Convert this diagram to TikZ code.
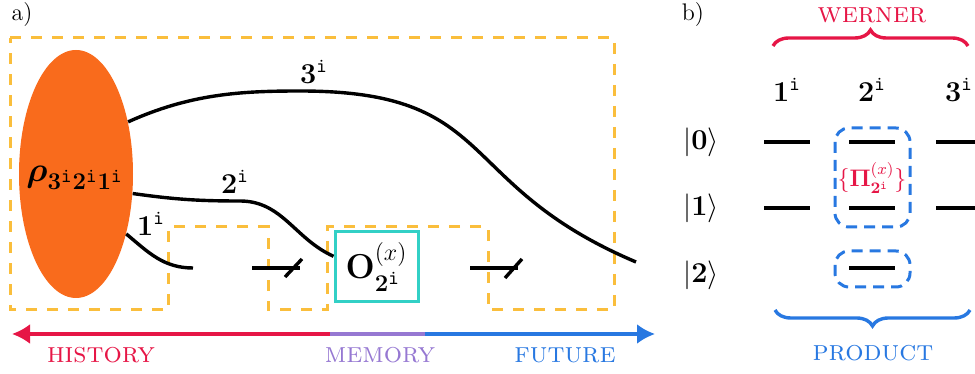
\documentclass[tikz,border=0pt]{standalone}
\usepackage{amsmath,amssymb,amsfonts}
\usepackage{xcolor}
\usepackage{tikz}
\usetikzlibrary{positioning,arrows.meta,shapes.geometric,calc,decorations.pathreplacing}

\definecolor{combyellow}{RGB}{250,190,60}
\definecolor{rhoorange}{RGB}{249,107,28}
\definecolor{instrteal}{RGB}{50,208,198}
\definecolor{histred}{RGB}{230,22,70}
\definecolor{mempurple}{RGB}{150,120,210}
\definecolor{futblue}{RGB}{40,120,225}
\newcommand{\sysi}{\mathtt{i}}

\begin{document}
\begin{tikzpicture}[x=0.5pt, y=0.5pt,
  comb/.style={combyellow, line width=1.5pt, dash pattern=on 5.5pt off 5pt},
  wire/.style={line width=1.7pt},
  lvl/.style={line width=1.7pt},
  proj/.style={futblue, line width=1.5pt, dash pattern=on 5.5pt off 3.5pt, rounded corners=7pt},
  timeline/.style={line width=1.6pt},
  tag/.style={font=\Large\scshape}]
  \useasboundingbox (0,0) rectangle (975,374);
  % ---------------- a) process tensor comb ----------------
  \node[font=\large] (la) at (22,359) {a)};
  \draw[comb] (10,336) -- (614,336) -- (614,64) -- (488,64) -- (488,147)
    -- (327,147) -- (327,64) -- (268,64) -- (268,147) -- (168,147)
    -- (168,64) -- (10,64) -- cycle;
  % initial state
  \node[ellipse, fill=rhoorange, minimum width=57pt, minimum height=124pt, inner sep=0pt] (rho) at (76,200) {};
  \node[font=\LARGE] (rholab) at (75,196) {$\boldsymbol{\rho}_{\mathbf{3}^{\sysi}\mathbf{2}^{\sysi}\mathbf{1}^{\sysi}}$};
  % instrument
  \node[draw=instrteal, line width=1.5pt, minimum width=41.5pt, minimum height=35pt, inner sep=0pt, font=\LARGE] (obox) at (376.5,107) {$\mathbf{O}^{(x)}_{\mathbf{2}^{\sysi}}$};
  % free wire ends
  \coordinate (cut1) at (193,106);
  \coordinate (in1) at (252,106);
  \coordinate (tick1) at (300,106);
  \coordinate (in2) at (470,106);
  \coordinate (tick2) at (518,106);
  \coordinate (out3) at (636,112);
  % wires
  \draw[wire] (rho.45) .. controls (190,280) and (240,283) .. (300,283)
    .. controls (500,283) and (452,190) .. (out3);
  \draw[wire] (rho.-19) to[out=-8,in=180] (240,173) to[out=0,in=156] (obox.166);
  \draw[wire] (rho.-50) to[out=-40,in=180] (cut1);
  \draw[wire] (in1) -- (tick1);
  \draw[wire] ($(tick1)+(-15,-9)$) -- ($(tick1)+(2,9)$);
  \draw[wire] (in2) -- (tick2);
  \draw[wire] ($(tick2)+(-13,-10)$) -- ($(tick2)+(4,9)$);
  \node[font=\Large] (lab3) at (314,302) {$\mathbf{3}^{\sysi}$};
  \node[font=\Large] (lab2) at (235,192) {$\mathbf{2}^{\sysi}$};
  \node[font=\Large] (lab1) at (151,150) {$\mathbf{1}^{\sysi}$};
  % time line
  \coordinate (tl) at (12,40);
  \coordinate (tm) at (330,40);
  \coordinate (tf) at (425,40);
  \coordinate (tr) at (655,40);
  \draw[timeline, histred, -{Latex[length=9pt,width=10pt]}] (tm) -- (tl);
  \draw[timeline, mempurple] (tm) -- (tf);
  \draw[timeline, futblue, -{Latex[length=9pt,width=10pt]}] (tf) -- (tr);
  \node[tag, text=histred] (hist) at (101,19) {history};
  \node[tag, text=mempurple] (mem) at (380,19) {memory};
  \node[tag, text=futblue] (fut) at (565,19) {future};
  % ---------------- b) levels ----------------
  \node[font=\large] (lb) at (693,359) {b)};
  \draw[histred, line width=1.7pt, decorate, decoration={brace, amplitude=8pt}] (773,328) -- (968,328);
  \node[tag, text=histred] (wer) at (872,359) {werner};
  \node[font=\Large] (c1) at (787,284) {$\mathbf{1}^{\sysi}$};
  \node[font=\Large] (c2) at (872,284) {$\mathbf{2}^{\sysi}$};
  \node[font=\Large] (c3) at (959,284) {$\mathbf{3}^{\sysi}$};
  \node[font=\Large] (k0) at (701,232) {$|\mathbf{0}\rangle$};
  \node[font=\Large] (k1) at (701,166) {$|\mathbf{1}\rangle$};
  \node[font=\Large] (k2) at (701,99) {$|\mathbf{2}\rangle$};
  \foreach \x in {787,872,959} {
    \foreach \y in {232,166} {
      \draw[lvl] (\x-23,\y) -- (\x+23,\y);
    }
  }
  \draw[lvl] (849,106) -- (895,106);
  \draw[proj] (835,246) rectangle (910,147);
  \draw[proj] (835,123) rectangle (910,87);
  \node[font=\large, text=histred] (povm) at (872,196) {$\{\boldsymbol{\Pi}^{(x)}_{\mathbf{2}^{\sysi}}\}$};
  \draw[futblue, line width=1.7pt, decorate, decoration={brace, mirror, amplitude=8pt}] (775,64) -- (970,64);
  \node[tag, text=futblue] (prod) at (873,21) {product};
\end{tikzpicture}
\end{document}
